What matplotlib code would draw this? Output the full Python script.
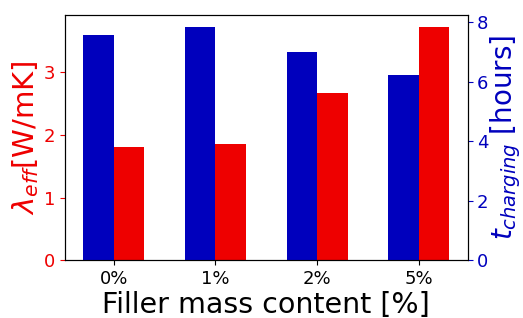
import numpy as np
import matplotlib
matplotlib.use("Agg")
import matplotlib.pyplot as plt

# filler content categories
labels = ["0%", "1%", "2%", "5%"]
lam_eff = [1.80, 1.86, 2.67, 3.73]      # W/mK
t_charge = [7.56, 7.85, 6.99, 6.23]     # hours

red = "#ee0000"
blue = "#0000bd"

x = np.arange(len(labels))
w = 0.3

fig = plt.figure(figsize=(5.23, 3.18), dpi=100)
ax1 = fig.add_axes([0.124, 0.182, 0.77, 0.771])
ax2 = ax1.twinx()

ax1.bar(x + w/2, lam_eff, w, color=red)
ax2.bar(x - w/2, t_charge, w, color=blue)

ax1.set_xticks(x)
ax1.set_xticklabels(labels, fontsize=13)
ax1.set_xlabel("Filler mass content [%]", fontsize=20.5, labelpad=2)

ax1.set_ylabel(r"$\lambda_{eff}$[W/mK]", color=red, fontsize=21, labelpad=2)
ax1.tick_params(axis="y", colors=red, labelsize=13)
ax1.set_yticks([0, 1, 2, 3])

ax2.set_ylabel(r"$t_{charging}$ [hours]", color=blue, fontsize=20, labelpad=0)
ax2.tick_params(axis="y", colors=blue, labelsize=13, pad=3)
ax2.set_yticks([0, 2, 4, 6, 8])

fig.savefig("out.png", dpi=100)
